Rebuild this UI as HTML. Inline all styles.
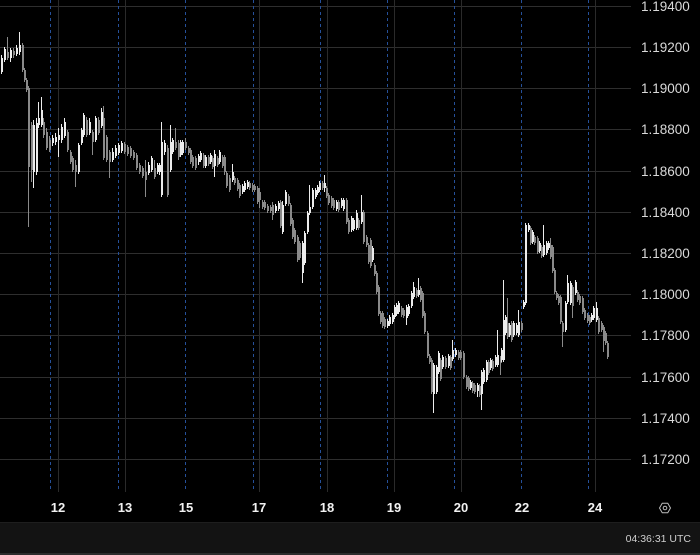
<!DOCTYPE html>
<html><head><meta charset="utf-8"><style>
html,body{margin:0;padding:0;background:#000;}
svg{display:block;}
</style></head><body>
<svg width="700" height="555" viewBox="0 0 700 555" xmlns="http://www.w3.org/2000/svg">
<rect x="0" y="0" width="700" height="555" fill="#000"/>
<g stroke="#2e2e2e" stroke-width="1">
<path d="M0 6.5H631M0 47.5H631M0 88.5H631M0 129.5H631M0 171.5H631M0 212.5H631M0 253.5H631M0 294.5H631M0 335.5H631M0 377.5H631M0 418.5H631M0 459.5H631"/>
<path stroke="#2a2a2a" d="M58.5 0V492M125.5 0V492M259.5 0V492M327.5 0V492M394.5 0V492M461.5 0V492M595.5 0V492"/>
</g>
<path stroke="#25509a" stroke-width="1" stroke-dasharray="3 3" fill="none" d="M50.5 0V492M118.5 0V492M185.5 0V492M253.5 0V492M320.5 0V492M387.5 0V492M454.5 0V492M521.5 0V492M588.5 0V492"/>
<!-- gray candles -->
<path fill="none" stroke="#8a8a8a" stroke-width="1" d="M7.5 37V60M13.5 48V58M22.5 43V72M24.5 68V82M26.5 78V92M28.5 86V227M31.5 122V182M43.5 118V138M46.5 128V150M49.5 136V152M67.5 130V152M70.5 150V164M72.5 156V172M75.5 160V187M86.5 117V137M92.5 130V155M98.5 117V135M103.5 106V160M106.5 135V162M109.5 150V178M124.5 142V154M127.5 145V156M130.5 146V158M133.5 150V160M136.5 153V170M139.5 163V174M142.5 166V178M145.5 160V197M154.5 160V179M167.5 145V197M175.5 128V150M178.5 140V160M185.5 138V150M188.5 146V155M190.5 148V164M192.5 155V168M195.5 156V170M203.5 153V168M208.5 155V166M212.5 156V169M217.5 156V167M222.5 155V168M224.5 155V175M226.5 171V188M229.5 175V192M234.5 176V185M237.5 178V191M239.5 183V198M249.5 181V190M252.5 183V192M254.5 184V192M257.5 186V204M259.5 188V208M262.5 200V209M264.5 200V210M267.5 204V213M270.5 205V213M272.5 202V220M280.5 200V228M288.5 194V206M290.5 203V226M292.5 218V239M294.5 228V244M297.5 235V262M299.5 241V260M322.5 181V190M326.5 186V198M328.5 193V205M331.5 196V208M333.5 198V210M338.5 200V212M346.5 198V224M348.5 218V234M358.5 218V230M363.5 210V244M366.5 235V247M368.5 243V264M370.5 238V268M374.5 263V276M376.5 271V294M378.5 285V316M380.5 311V324M382.5 311V328M384.5 317V329M401.5 306V317M403.5 308V318M416.5 288V298M420.5 286V302M422.5 291V318M424.5 311V334M427.5 331V358M429.5 354V364M431.5 358V394M440.5 358V381M445.5 356V369M450.5 355V370M458.5 350V360M460.5 350V360M463.5 351V379M466.5 375V389M468.5 376V391M472.5 381V393M474.5 383V394M479.5 384V397M488.5 360V375M492.5 359V371M500.5 356V375M507.5 298V339M511.5 321V342M521.5 321V332M530.5 226V245M534.5 235V245M537.5 236V254M541.5 245V258M550.5 238V259M552.5 245V273M554.5 268V294M556.5 291V300M558.5 294V305M560.5 295V324M562.5 321V347M572.5 285V318M577.5 290V302M579.5 294V305M582.5 296V314M584.5 308V320M587.5 313V323M589.5 315V325M598.5 316V334M601.5 321V332M603.5 325V352M605.5 331V345M607.5 341V359"/>
<path fill="none" stroke="#8a8a8a" stroke-width="2" d="M8 52V58M14 51V55M23 45V70M25 70V80M27 80V90M29 88V167M32 125V170M44 122V135M47 132V148M50 140V150M68 132V150M71 152V162M73 158V170M76 165V172M87 120V135M93 132V142M99 120V133M104 118V158M107 137V160M110 152V162M125 144V152M128 147V154M131 148V156M134 152V158M137 155V168M140 165V172M143 168V176M146 172V180M155 168V177M168 148V195M176 142V148M179 143V157M186 142V148M189 148V153M191 150V162M193 157V166M196 158V168M204 155V166M209 157V164M213 158V167M218 158V165M223 157V166M225 157V172M227 173V186M230 178V190M235 178V183M238 180V189M240 185V196M250 183V188M253 185V190M255 186V190M258 188V202M260 192V200M263 202V207M265 202V208M268 206V211M271 207V211M273 205V215M281 202V226M289 196V204M291 205V224M293 220V237M295 230V242M298 237V260M300 243V258M323 183V188M327 188V196M329 195V203M332 198V206M334 200V208M339 202V210M347 200V222M349 220V232M359 220V228M364 212V242M367 237V245M369 245V262M371 240V266M375 265V274M377 273V292M379 287V314M381 313V322M383 313V326M385 319V327M402 308V315M404 310V316M417 290V296M421 288V300M423 293V316M425 313V332M428 333V356M430 356V362M432 360V392M441 360V379M446 358V367M451 357V368M459 352V358M461 352V358M464 353V377M467 377V387M469 378V389M473 383V391M475 385V392M480 386V395M489 362V373M493 361V369M501 358V363M508 323V337M512 323V340M522 323V330M531 228V243M535 237V243M538 238V252M542 247V256M551 245V257M553 247V271M555 270V292M557 293V298M559 296V303M561 297V322M563 323V332M573 287V306M578 292V300M580 296V303M583 298V312M585 310V318M588 315V321M590 317V323M599 318V332M602 323V330M604 327V341M606 333V343M608 343V357"/>
<!-- white candles -->
<path fill="none" stroke="#ececec" stroke-width="1" d="M1.5 55V74M4.5 47V62M10.5 48V62M16.5 45V56M19.5 32V55M33.5 120V188M36.5 118V175M38.5 102V128M41.5 97V127M52.5 135V146M55.5 133V145M58.5 128V157M61.5 124V143M64.5 118V138M78.5 143V174M81.5 128V145M83.5 113V137M89.5 118V135M95.5 116V142M101.5 108V128M112.5 148V162M115.5 145V158M118.5 143V155M121.5 141V153M148.5 162V175M151.5 156V172M157.5 163V174M159.5 163V175M161.5 122V197M164.5 140V155M170.5 125V172M172.5 138V154M180.5 140V157M182.5 140V155M198.5 154V165M200.5 151V162M205.5 155V168M210.5 153V164M214.5 150V177M219.5 150V164M232.5 164V182M242.5 184V194M244.5 181V192M247.5 180V189M275.5 204V213M278.5 201V211M282.5 201V234M285.5 190V206M302.5 241V283M304.5 231V265M307.5 211V234M309.5 185V215M312.5 188V209M315.5 188V199M317.5 185V195M319.5 181V192M324.5 175V192M336.5 200V211M341.5 198V208M343.5 198V211M351.5 216V232M353.5 218V231M356.5 210V230M361.5 195V224M372.5 246V262M387.5 319V328M389.5 315V326M392.5 313V324M394.5 305V319M396.5 303V316M398.5 301V314M406.5 305V325M408.5 304V316M411.5 291V308M413.5 282V299M418.5 278V297M433.5 363V413M436.5 365V394M438.5 351V374M442.5 355V369M448.5 354V368M452.5 340V361M455.5 348V357M470.5 380V390M477.5 383V397M481.5 370V410M483.5 368V384M486.5 360V382M490.5 358V370M495.5 355V367M497.5 330V367M501.5 348V362M503.5 280V362M505.5 315V335M509.5 323V337M513.5 321V337M516.5 323V335M518.5 310V337M523.5 300V309M525.5 223V305M528.5 223V232M532.5 230V244M539.5 241V253M543.5 225V257M546.5 241V255M548.5 241V250M565.5 301V332M567.5 275V304M570.5 281V305M575.5 280V295M591.5 313V322M593.5 306V320M596.5 302V322"/>
<path fill="none" stroke="#ececec" stroke-width="2" d="M2 58V72M5 49V60M11 50V58M17 48V54M20 45V52M34 125V172M37 123V172M39 118V125M42 110V125M53 138V143M56 137V142M59 135V140M62 127V140M65 122V136M79 145V172M82 130V143M84 115V135M90 122V133M96 118V140M102 112V126M113 152V160M116 148V156M119 145V153M122 143V151M149 165V173M152 158V170M158 165V172M160 165V172M162 142V195M165 143V152M171 142V170M173 140V152M181 142V155M183 142V153M199 156V162M201 153V160M206 157V166M211 155V162M215 154V166M220 152V162M233 172V180M243 186V192M245 183V190M248 182V187M276 206V211M279 203V209M283 205V232M286 192V204M303 243V273M305 233V263M308 213V232M310 207V213M313 190V207M316 190V197M318 187V193M320 183V190M325 183V188M337 202V209M342 200V206M344 200V209M352 218V230M354 220V229M357 213V228M362 212V222M373 248V260M388 321V326M390 317V324M393 315V322M395 307V317M397 305V314M399 303V312M407 307V318M409 306V314M412 293V306M414 287V297M419 290V295M434 365V394M437 367V392M439 353V372M443 357V367M449 356V366M453 350V359M456 350V355M471 382V388M478 385V391M482 372V394M484 370V382M487 362V380M491 360V368M496 357V365M498 355V365M502 350V360M504 320V360M506 317V333M510 325V335M514 323V335M517 325V333M519 322V335M524 302V307M526 225V303M529 225V230M533 232V242M540 243V251M544 245V255M547 243V253M549 243V248M566 303V330M568 283V302M571 283V303M576 282V293M592 315V320M594 308V318M597 308V320"/>
<!-- price labels -->
<g font-family="Liberation Sans, sans-serif" font-size="13.5" fill="#d9d9d9">
<text x="641" y="11">1.19400</text>
<text x="641" y="52">1.19200</text>
<text x="641" y="93">1.19000</text>
<text x="641" y="134">1.18800</text>
<text x="641" y="176">1.18600</text>
<text x="641" y="217">1.18400</text>
<text x="641" y="258">1.18200</text>
<text x="641" y="299">1.18000</text>
<text x="641" y="340">1.17800</text>
<text x="641" y="382">1.17600</text>
<text x="641" y="423">1.17400</text>
<text x="641" y="464">1.17200</text>
</g>
<!-- date labels -->
<g font-family="Liberation Sans, sans-serif" font-size="13" font-weight="bold" fill="#f2f2f2" text-anchor="middle">
<text x="58" y="512">12</text>
<text x="125" y="512">13</text>
<text x="186" y="512">15</text>
<text x="259" y="512">17</text>
<text x="327" y="512">18</text>
<text x="394" y="512">19</text>
<text x="461" y="512">20</text>
<text x="522" y="512">22</text>
<text x="595" y="512">24</text>
</g>
<!-- settings icon -->
<polygon points="670.5,508 667.75,512.76 662.25,512.76 659.5,508 662.25,503.24 667.75,503.24" fill="none" stroke="#bdbdbd" stroke-width="1"/>
<circle cx="665" cy="508" r="1.8" fill="none" stroke="#bdbdbd" stroke-width="1"/>
<!-- footer -->
<rect x="0" y="523" width="700" height="30" fill="#131313"/>
<rect x="0" y="522" width="700" height="1" fill="#1e1e1e"/>
<rect x="0" y="553" width="700" height="2" fill="#2c2c2c"/>
<text x="691" y="542" font-family="Liberation Sans, sans-serif" font-size="10.5" fill="#cfcfcf" text-anchor="end">04:36:31 UTC</text>
</svg>
</body></html>
